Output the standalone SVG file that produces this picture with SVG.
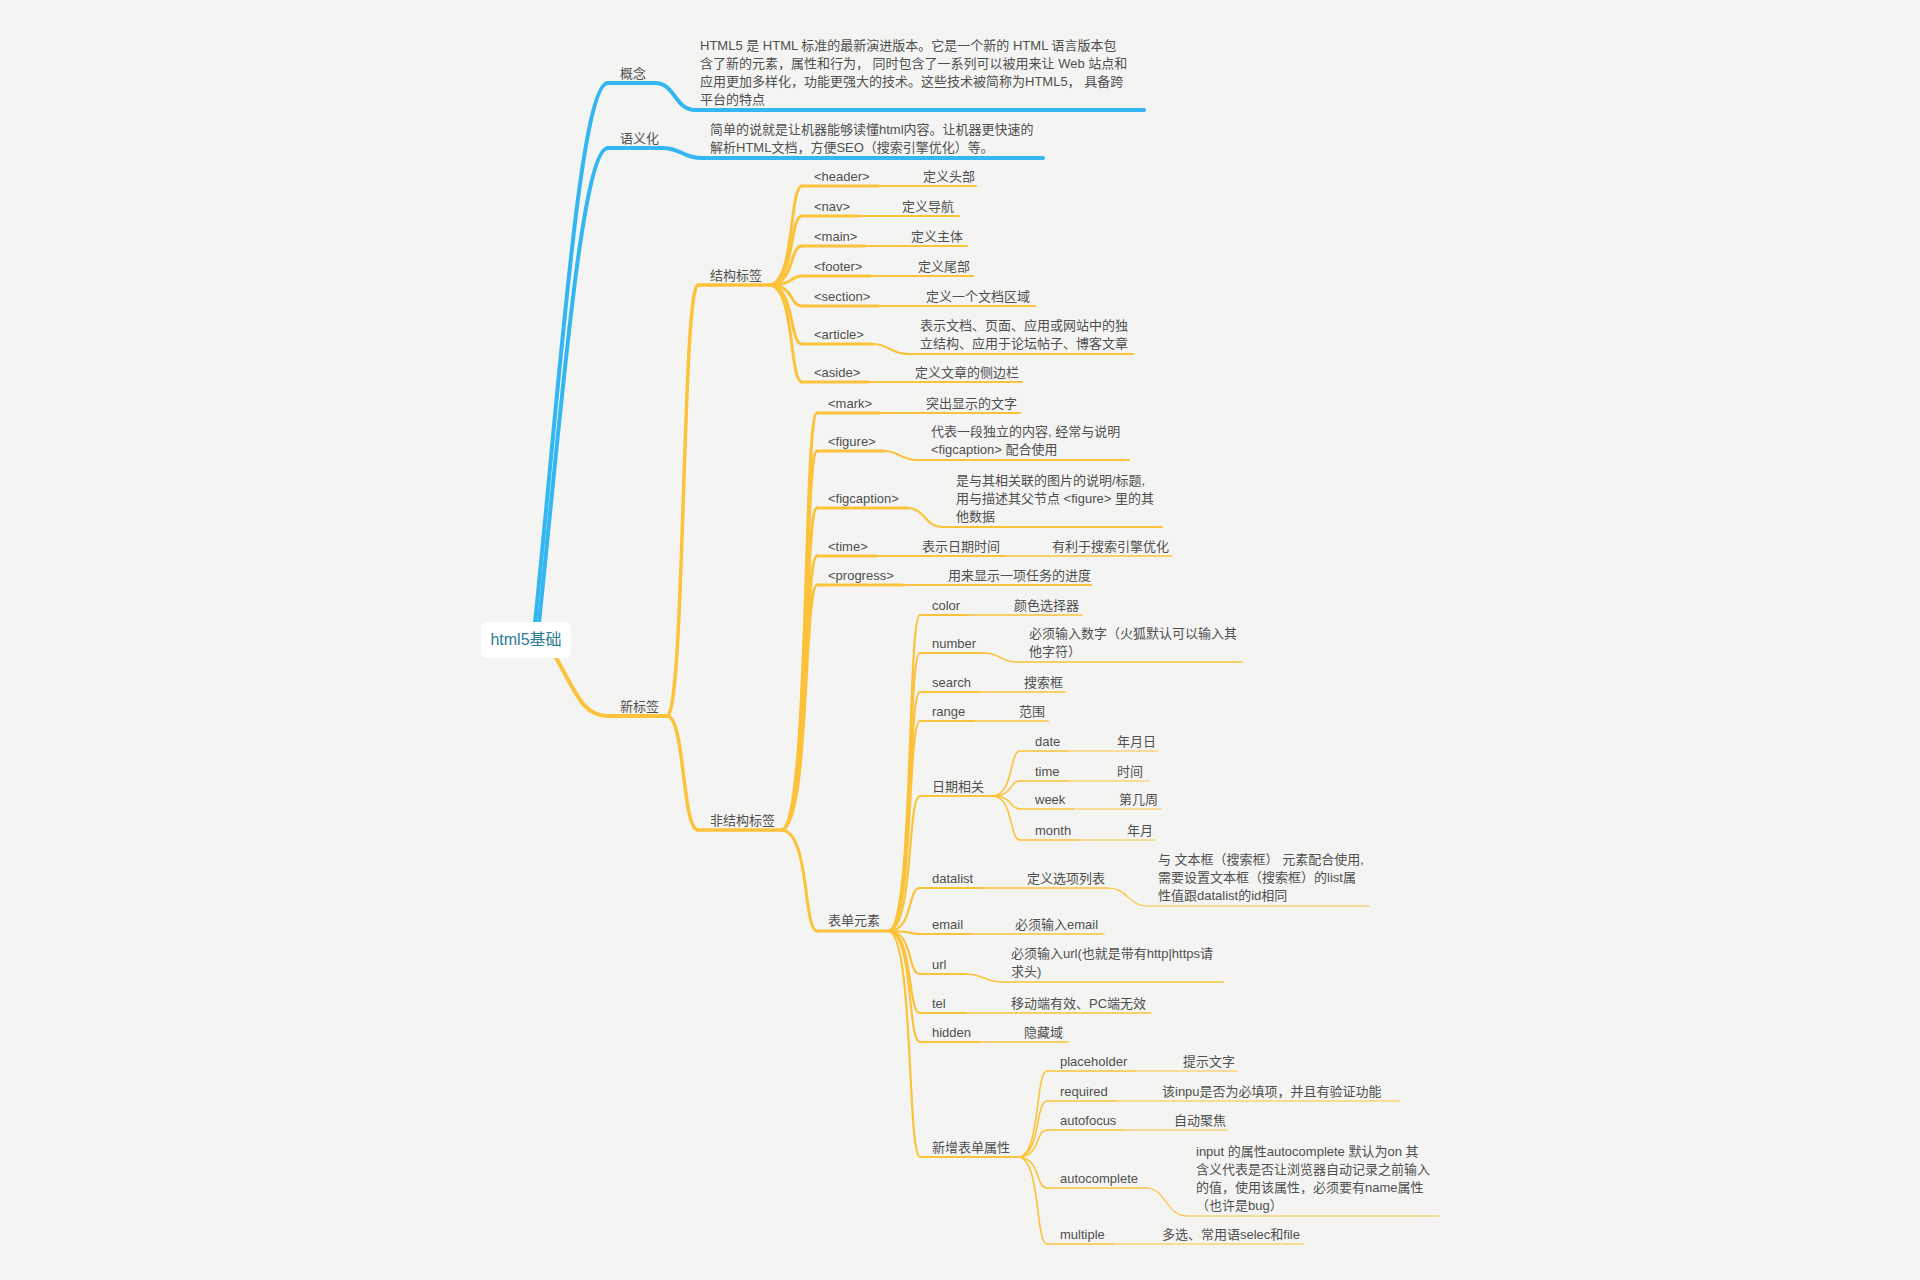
<svg xmlns="http://www.w3.org/2000/svg" width="1920" height="1280" viewBox="0 0 1920 1280">
<style>
.t{font-family:"Liberation Sans","Noto Sans CJK SC",sans-serif;font-size:13px;fill:#4f4f4f}
.ln{fill:none;stroke-linecap:round}
.b1{stroke:#34b6f3;stroke-width:4}
.y{stroke:#fbc23a}
.y1{stroke-width:4}
.y2{stroke-width:3.5}
.y3{stroke-width:3}
.y4{stroke-width:2.2}
.y5{stroke-width:1.6}
.y6{stroke-width:1.2}
</style>
<rect width="1920" height="1280" fill="#f4f5f2"/>
<g id="connectors">
<path class="ln b1" d="M535 623 C560 380 580 83 608 83"/>
<path class="ln b1" d="M539 623 C562 400 582 148 608 148"/>
<path class="ln b1" d="M655 83 C675 83 675 110 695 110"/>
<path class="ln b1" d="M662 148 C682 148 682 158 702 158"/>
<path class="ln y y1" d="M556 658 C575 690 582 716 608 716"/>
<path class="ln y y2" d="M667 716 C685 716 682 285 698 285"/>
<path class="ln y y2" d="M667 716 C685 716 682 830 698 830"/>
<path class="ln y y3" d="M769 285 C795 285 789 186 802 186"/>
<path class="ln y y3" d="M769 285 C795 285 789 216 802 216"/>
<path class="ln y y3" d="M769 285 C795 285 789 246 802 246"/>
<path class="ln y y3" d="M769 285 C795 285 789 276 802 276"/>
<path class="ln y y3" d="M769 285 C795 285 789 306 802 306"/>
<path class="ln y y3" d="M769 285 C795 285 789 344 802 344"/>
<path class="ln y y3" d="M769 285 C795 285 789 382 802 382"/>
<path class="ln y y4" d="M872 344 C890 344 890 354 908 354"/>
<path class="ln y y3" d="M781 830 C810 830 803 413 817 413"/>
<path class="ln y y3" d="M781 830 C810 830 803 451 817 451"/>
<path class="ln y y3" d="M781 830 C810 830 803 508 817 508"/>
<path class="ln y y3" d="M781 830 C810 830 803 556 817 556"/>
<path class="ln y y3" d="M781 830 C810 830 803 585 817 585"/>
<path class="ln y y3" d="M781 830 C810 830 803 931 817 931"/>
<path class="ln y y4" d="M884 451 C900 451 900 460 917 460"/>
<path class="ln y y4" d="M907 508 C925 508 925 527 942 527"/>
<path class="ln y y4" d="M888 931 C914 931 907 615 920 615"/>
<path class="ln y y4" d="M888 931 C914 931 907 653 920 653"/>
<path class="ln y y4" d="M888 931 C914 931 907 692 920 692"/>
<path class="ln y y4" d="M888 931 C914 931 907 721 920 721"/>
<path class="ln y y4" d="M888 931 C914 931 907 796 920 796"/>
<path class="ln y y4" d="M888 931 C914 931 907 888 920 888"/>
<path class="ln y y4" d="M888 931 C914 931 907 934 920 934"/>
<path class="ln y y4" d="M888 931 C914 931 907 974 920 974"/>
<path class="ln y y4" d="M888 931 C914 931 907 1013 920 1013"/>
<path class="ln y y4" d="M888 931 C914 931 907 1042 920 1042"/>
<path class="ln y y4" d="M888 931 C914 931 907 1157 920 1157"/>
<path class="ln y y5" d="M984 653 C1000 653 1000 662 1017 662"/>
<path class="ln y y5" d="M965 974 C984 974 984 982 1003 982"/>
<path class="ln y y5" d="M992 796 C1014 796 1009 751 1020 751"/>
<path class="ln y y5" d="M992 796 C1014 796 1009 781 1020 781"/>
<path class="ln y y5" d="M992 796 C1014 796 1009 809 1020 809"/>
<path class="ln y y5" d="M992 796 C1014 796 1009 840 1020 840"/>
<path class="ln y y6" d="M1108 888 C1128 888 1128 906 1147 906"/>
<path class="ln y y5" d="M1018 1157 C1041 1157 1035 1071 1047 1071"/>
<path class="ln y y5" d="M1018 1157 C1041 1157 1035 1101 1047 1101"/>
<path class="ln y y5" d="M1018 1157 C1041 1157 1035 1130 1047 1130"/>
<path class="ln y y5" d="M1018 1157 C1041 1157 1035 1188 1047 1188"/>
<path class="ln y y5" d="M1018 1157 C1041 1157 1035 1244 1047 1244"/>
<path class="ln y y6" d="M1146 1188 C1166 1188 1166 1216 1187 1216"/>
</g>
<g id="root">
<rect x="481" y="622" width="90" height="36" rx="5" fill="#ffffff"/>
<text x="526" y="645" text-anchor="middle" style="font-family:'Liberation Sans','Noto Sans CJK SC',sans-serif;font-size:16px;fill:#2b7c96">html5基础</text>
</g>
<g id="gainian"><path class="ln b1" d="M608 83 H655"/><text class="t" x="620" y="78">概念</text></g>
<g id="gainian-desc"><path class="ln b1" d="M695 110 H1144"/>
<text class="t" x="700" y="50">HTML5 是 HTML 标准的最新演进版本。它是一个新的 HTML 语言版本包</text>
<text class="t" x="700" y="68">含了新的元素，属性和行为， 同时包含了一系列可以被用来让 Web 站点和</text>
<text class="t" x="700" y="86">应用更加多样化，功能更强大的技术。这些技术被简称为HTML5， 具备跨</text>
<text class="t" x="700" y="104">平台的特点</text></g>
<g id="yuyihua"><path class="ln b1" d="M608 148 H662"/><text class="t" x="620" y="143">语义化</text></g>
<g id="yuyihua-desc"><path class="ln b1" d="M702 158 H1043"/>
<text class="t" x="710" y="134">简单的说就是让机器能够读懂html内容。让机器更快速的</text>
<text class="t" x="710" y="152">解析HTML文档，方便SEO（搜索引擎优化）等。</text></g>
<g id="xinbiaoqian"><path class="ln y y1" d="M608 716 H667"/><text class="t" x="620" y="711">新标签</text></g>
<g id="jiegou"><path class="ln y y2" d="M698 285 H769"/><text class="t" x="710" y="280">结构标签</text></g>
<g id="feijiegou"><path class="ln y y2" d="M698 830 H781"/><text class="t" x="710" y="825">非结构标签</text></g>

<g id="header"><path class="ln y y3" d="M802 186 H878"/><text class="t" x="814" y="181">&lt;header&gt;</text></g>
<g id="header-d"><path class="ln y y4" d="M878 186 H976"/><text class="t" x="923" y="181">定义头部</text></g>
<g id="nav"><path class="ln y y3" d="M802 216 H858"/><text class="t" x="814" y="211">&lt;nav&gt;</text></g>
<g id="nav-d"><path class="ln y y4" d="M858 216 H959"/><text class="t" x="902" y="211">定义导航</text></g>
<g id="main"><path class="ln y y3" d="M802 246 H865"/><text class="t" x="814" y="241">&lt;main&gt;</text></g>
<g id="main-d"><path class="ln y y4" d="M865 246 H967"/><text class="t" x="911" y="241">定义主体</text></g>
<g id="footer"><path class="ln y y3" d="M802 276 H870"/><text class="t" x="814" y="271">&lt;footer&gt;</text></g>
<g id="footer-d"><path class="ln y y4" d="M870 276 H973"/><text class="t" x="918" y="271">定义尾部</text></g>
<g id="section"><path class="ln y y3" d="M802 306 H878"/><text class="t" x="814" y="301">&lt;section&gt;</text></g>
<g id="section-d"><path class="ln y y4" d="M878 306 H1035"/><text class="t" x="926" y="301">定义一个文档区域</text></g>
<g id="article"><path class="ln y y3" d="M802 344 H872"/><text class="t" x="814" y="339">&lt;article&gt;</text></g>
<g id="article-d"><path class="ln y y4" d="M908 354 H1133"/><text class="t" x="920" y="330">表示文档、页面、应用或网站中的独</text><text class="t" x="920" y="348">立结构、应用于论坛帖子、博客文章</text></g>
<g id="aside"><path class="ln y y3" d="M802 382 H868"/><text class="t" x="814" y="377">&lt;aside&gt;</text></g>
<g id="aside-d"><path class="ln y y4" d="M868 382 H1022"/><text class="t" x="915" y="377">定义文章的侧边栏</text></g>

<g id="mark"><path class="ln y y3" d="M817 413 H880"/><text class="t" x="828" y="408">&lt;mark&gt;</text></g>
<g id="mark-d"><path class="ln y y4" d="M880 413 H1020"/><text class="t" x="926" y="408">突出显示的文字</text></g>
<g id="figure"><path class="ln y y3" d="M817 451 H884"/><text class="t" x="828" y="446">&lt;figure&gt;</text></g>
<g id="figure-d"><path class="ln y y4" d="M917 460 H1129"/><text class="t" x="931" y="436">代表一段独立的内容, 经常与说明</text><text class="t" x="931" y="454">&lt;figcaption&gt; 配合使用</text></g>
<g id="figcaption"><path class="ln y y3" d="M817 508 H907"/><text class="t" x="828" y="503">&lt;figcaption&gt;</text></g>
<g id="figcaption-d"><path class="ln y y4" d="M942 527 H1162"/><text class="t" x="956" y="485">是与其相关联的图片的说明/标题,</text><text class="t" x="956" y="503">用与描述其父节点 &lt;figure&gt; 里的其</text><text class="t" x="956" y="521">他数据</text></g>
<g id="time"><path class="ln y y3" d="M817 556 H876"/><text class="t" x="828" y="551">&lt;time&gt;</text></g>
<g id="time-d"><path class="ln y y4" d="M876 556 H1004"/><text class="t" x="922" y="551">表示日期时间</text></g>
<g id="time-d2"><path class="ln y y5" d="M1004 556 H1172"/><text class="t" x="1052" y="551">有利于搜索引擎优化</text></g>
<g id="progress"><path class="ln y y3" d="M817 585 H902"/><text class="t" x="828" y="580">&lt;progress&gt;</text></g>
<g id="progress-d"><path class="ln y y4" d="M902 585 H1091"/><text class="t" x="948" y="580">用来显示一项任务的进度</text></g>
<g id="biaodan"><path class="ln y y3" d="M817 931 H888"/><text class="t" x="828" y="925">表单元素</text></g>

<g id="color"><path class="ln y y4" d="M920 615 H968"/><text class="t" x="932" y="610">color</text></g>
<g id="color-d"><path class="ln y y5" d="M968 615 H1082"/><text class="t" x="1014" y="610">颜色选择器</text></g>
<g id="number"><path class="ln y y4" d="M920 653 H984"/><text class="t" x="932" y="648">number</text></g>
<g id="number-d"><path class="ln y y5" d="M1017 662 H1242"/><text class="t" x="1029" y="638">必须输入数字（火狐默认可以输入其</text><text class="t" x="1029" y="656">他字符）</text></g>
<g id="search"><path class="ln y y4" d="M920 692 H979"/><text class="t" x="932" y="687">search</text></g>
<g id="search-d"><path class="ln y y5" d="M979 692 H1065"/><text class="t" x="1024" y="687">搜索框</text></g>
<g id="range"><path class="ln y y4" d="M920 721 H973"/><text class="t" x="932" y="716">range</text></g>
<g id="range-d"><path class="ln y y5" d="M973 721 H1048"/><text class="t" x="1019" y="716">范围</text></g>
<g id="riqi"><path class="ln y y4" d="M920 796 H992"/><text class="t" x="932" y="791">日期相关</text></g>
<g id="date"><path class="ln y y5" d="M1020 751 H1068"/><text class="t" x="1035" y="746">date</text></g>
<g id="date-d"><path class="ln y y6" d="M1068 751 H1158"/><text class="t" x="1117" y="746">年月日</text></g>
<g id="time2"><path class="ln y y5" d="M1020 781 H1068"/><text class="t" x="1035" y="776">time</text></g>
<g id="time2-d"><path class="ln y y6" d="M1068 781 H1149"/><text class="t" x="1117" y="776">时间</text></g>
<g id="week"><path class="ln y y5" d="M1020 809 H1073"/><text class="t" x="1035" y="804">week</text></g>
<g id="week-d"><path class="ln y y6" d="M1073 809 H1161"/><text class="t" x="1119" y="804">第几周</text></g>
<g id="month"><path class="ln y y5" d="M1020 840 H1079"/><text class="t" x="1035" y="835">month</text></g>
<g id="month-d"><path class="ln y y6" d="M1079 840 H1155"/><text class="t" x="1127" y="835">年月</text></g>
<g id="datalist"><path class="ln y y4" d="M920 888 H981"/><text class="t" x="932" y="883">datalist</text></g>
<g id="datalist-d"><path class="ln y y5" d="M981 888 H1108"/><text class="t" x="1027" y="883">定义选项列表</text></g>
<g id="datalist-d2"><path class="ln y y6" d="M1147 906 H1369"/><text class="t" x="1158" y="864">与 文本框（搜索框） 元素配合使用,</text><text class="t" x="1158" y="882">需要设置文本框（搜索框）的list属</text><text class="t" x="1158" y="900">性值跟datalist的id相同</text></g>
<g id="email"><path class="ln y y4" d="M920 934 H971"/><text class="t" x="932" y="929">email</text></g>
<g id="email-d"><path class="ln y y5" d="M971 934 H1104"/><text class="t" x="1015" y="929">必须输入email</text></g>
<g id="url"><path class="ln y y4" d="M920 974 H965"/><text class="t" x="932" y="969">url</text></g>
<g id="url-d"><path class="ln y y5" d="M1003 982 H1223"/><text class="t" x="1011" y="958">必须输入url(也就是带有http|https请</text><text class="t" x="1011" y="976">求头)</text></g>
<g id="tel"><path class="ln y y4" d="M920 1013 H965"/><text class="t" x="932" y="1008">tel</text></g>
<g id="tel-d"><path class="ln y y5" d="M965 1013 H1151"/><text class="t" x="1011" y="1008">移动端有效、PC端无效</text></g>
<g id="hidden"><path class="ln y y4" d="M920 1042 H979"/><text class="t" x="932" y="1037">hidden</text></g>
<g id="hidden-d"><path class="ln y y5" d="M979 1042 H1068"/><text class="t" x="1024" y="1037">隐藏域</text></g>
<g id="xinzeng"><path class="ln y y4" d="M920 1157 H1018"/><text class="t" x="932" y="1152">新增表单属性</text></g>
<g id="placeholder"><path class="ln y y5" d="M1047 1071 H1135"/><text class="t" x="1060" y="1066">placeholder</text></g>
<g id="placeholder-d"><path class="ln y y6" d="M1135 1071 H1237"/><text class="t" x="1183" y="1066">提示文字</text></g>
<g id="required"><path class="ln y y5" d="M1047 1101 H1116"/><text class="t" x="1060" y="1096">required</text></g>
<g id="required-d"><path class="ln y y6" d="M1116 1101 H1400"/><text class="t" x="1162" y="1096">该inpu是否为必填项，并且有验证功能</text></g>
<g id="autofocus"><path class="ln y y5" d="M1047 1130 H1124"/><text class="t" x="1060" y="1125">autofocus</text></g>
<g id="autofocus-d"><path class="ln y y6" d="M1124 1130 H1227"/><text class="t" x="1174" y="1125">自动聚焦</text></g>
<g id="autocomplete"><path class="ln y y5" d="M1047 1188 H1146"/><text class="t" x="1060" y="1183">autocomplete</text></g>
<g id="autocomplete-d"><path class="ln y y6" d="M1187 1216 H1439"/><text class="t" x="1196" y="1156">input 的属性autocomplete 默认为on 其</text><text class="t" x="1196" y="1174">含义代表是否让浏览器自动记录之前输入</text><text class="t" x="1196" y="1192">的值，使用该属性，必须要有name属性</text><text class="t" x="1196" y="1210">（也许是bug）</text></g>
<g id="multiple"><path class="ln y y5" d="M1047 1244 H1113"/><text class="t" x="1060" y="1239">multiple</text></g>
<g id="multiple-d"><path class="ln y y6" d="M1113 1244 H1304"/><text class="t" x="1162" y="1239">多选、常用语selec和file</text></g>
</svg>
